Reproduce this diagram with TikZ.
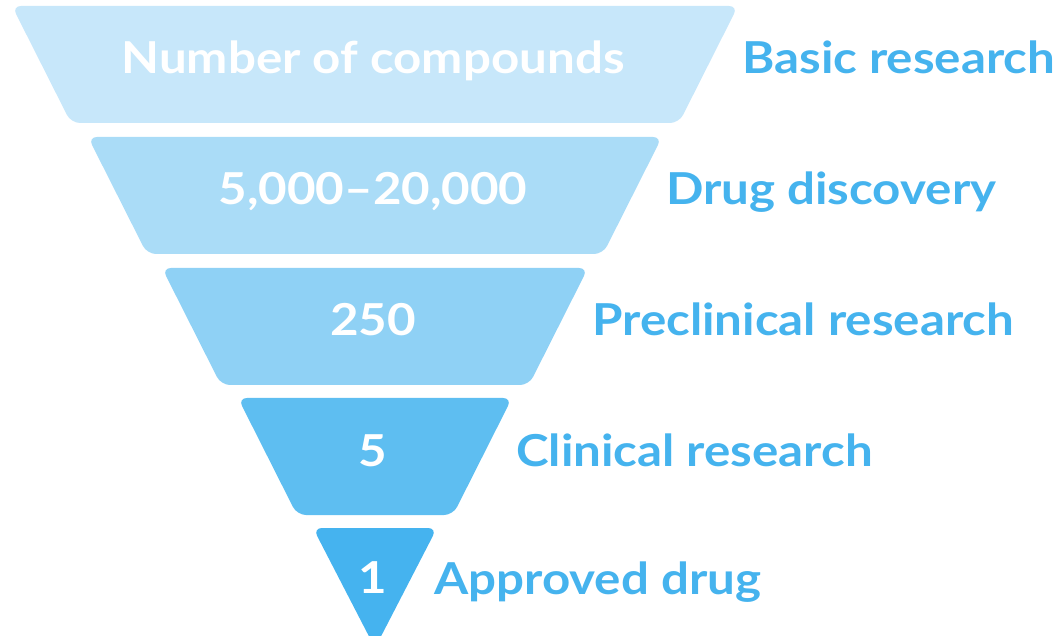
\documentclass[tikz,border=0pt]{standalone}
\usepackage{fontspec}
\setmainfont{Lato}
\newfontfamily\funnelfont{Lato}[FakeStretch=1.12,Ligatures=TeX]
\usetikzlibrary{positioning}

\definecolor{levA}{HTML}{C7E7FA}
\definecolor{levB}{HTML}{AADCF7}
\definecolor{levC}{HTML}{8FD1F5}
\definecolor{levD}{HTML}{5EBEF1}
\definecolor{levE}{HTML}{45B3EF}
\definecolor{stageblue}{HTML}{45B3EE}

\begin{document}
\begin{tikzpicture}[
      x=1pt,y=-1pt,
      level/.style={rounded corners=9pt},
      count/.style={
         text=white,
         anchor=base,
         font=\fontsize{44}{44}\funnelfont\bfseries,
         inner sep=0pt},
      stage/.style={
         text=stageblue,
         anchor=base west,
         font=\fontsize{44}{44}\funnelfont\bfseries,
         inner sep=0pt}
      ]
      \useasboundingbox (0,0) rectangle (1061,636);

    \foreach \n/\xl/\yt/\col/\num/\txt in {% name/left x/top y/colour/count/stage
      a/12/6/levA/{Number of compounds}/{Basic research},
      b/88/137/levB/{5,000\textendash 20,000}/{Drug discovery},
      c/162/268/levC/{250}/{Preclinical research},
      d/238/398/levD/{5}/{Clinical research}}
    {
      \fill[level,\col] (\xl,\yt) -- (750-\xl,\yt) -- (750-\xl-59,\yt+117)
         -- (\xl+59,\yt+117) -- cycle;
      \node[count] (num-\n) at (373,\yt+68) {\num};
      \node[stage] (lbl-\n) at (750-\xl+4,\yt+68) {\txt};
    }

      % last level is a triangle
      \fill[level,levE] (313,528) -- (437,528) -- (375,648) -- cycle;
      \node[count] (num-e) at (373,593) {1};
      \node[stage] (lbl-e) at (434,594) {Approved drug};

     \end{tikzpicture}
\end{document}
